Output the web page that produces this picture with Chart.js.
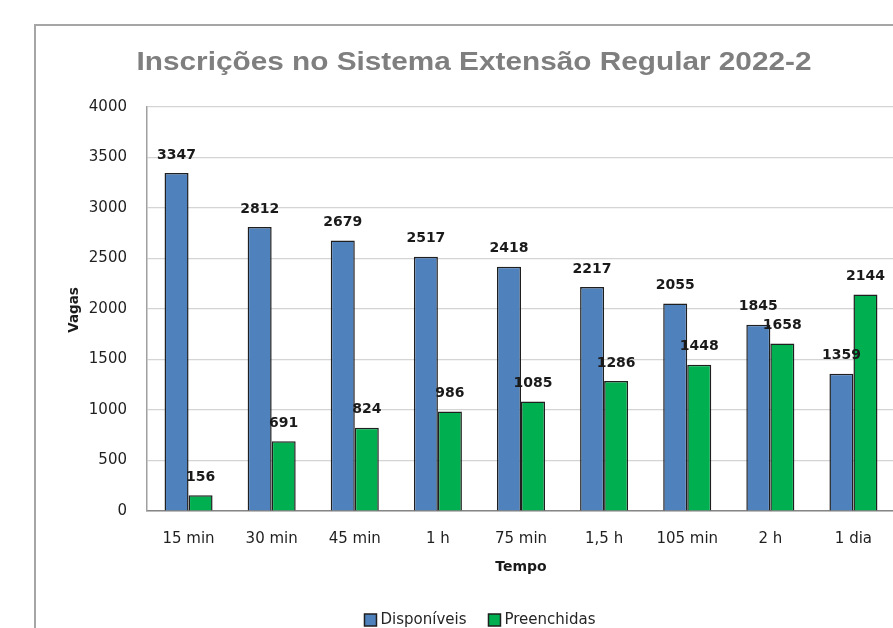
<!DOCTYPE html>
<html><head><meta charset="utf-8">
<script src="https://cdn.jsdelivr.net/npm/chart.js@4.4.1/dist/chart.umd.min.js"></script>
<style>
html,body{margin:0;padding:0;overflow:hidden;background:#fff;width:893px;height:628px}
#wrap{position:absolute;left:0;top:0;width:920px;height:628px}
</style>
</head><body><div id="wrap"><canvas id="c" width="920" height="628"></canvas></div>
<script>
const categories = ['15 min','30 min','45 min','1 h','75 min','1,5 h','105 min','2 h','1 dia'];
const disponiveis = [3347, 2812, 2679, 2517, 2418, 2217, 2055, 1845, 1359];
const preenchidas = [156, 691, 824, 986, 1085, 1286, 1448, 1658, 2144];
const yMin = 0, yMax = 4000, yStep = 500;
const chartTitle = 'Inscrições no Sistema Extensão Regular 2022-2';
const xTitle = 'Tempo';
const yTitle = 'Vagas';
const seriesNames = ['Disponíveis', 'Preenchidas'];
const seriesColors = ['#4f81bd', '#00b050'];

const deco = {
  id: 'deco',
  beforeDraw(chart) {
    const ctx = chart.ctx;
    ctx.save();
    ctx.fillStyle = '#fff';
    ctx.fillRect(0, 0, chart.width, chart.height);
    ctx.strokeStyle = '#a6a6a6';
    ctx.lineWidth = 2;
    ctx.strokeRect(35, 25, 2000, 2000);
    ctx.restore();
  },
  afterDatasetsDraw(chart) {
    const ctx = chart.ctx;
    ctx.save();
    ctx.font = 'bold 14px "DejaVu Sans"';
    ctx.fillStyle = '#1a1a1a';
    ctx.textAlign = 'center';
    ctx.textBaseline = 'middle';
    chart.data.datasets.forEach((ds, i) => {
      const meta = chart.getDatasetMeta(i);
      meta.data.forEach((el, j) => {
        ctx.fillText(String(ds.data[j]), el.x, el.y - 18);
      });
    });
    ctx.restore();
  },
  afterDraw(chart) {
    const ctx = chart.ctx;
    const area = chart.chartArea;
    ctx.save();
    // title
    ctx.font = 'bold 26.5px "Liberation Sans"';
    ctx.fillStyle = '#7f7f7f';
    ctx.textBaseline = 'alphabetic';
    ctx.textAlign = 'left';
    const w = ctx.measureText(chartTitle).width;
    const targetW = 675;
    ctx.save();
    ctx.translate(474 - targetW / 2, 69.5);
    ctx.scale(targetW / w, 1);
    ctx.fillText(chartTitle, 0, 0);
    ctx.restore();
    // axis titles
    ctx.fillStyle = '#1a1a1a';
    ctx.textAlign = 'center';
    ctx.textBaseline = 'middle';
    ctx.font = 'bold 14px "DejaVu Sans"';
    ctx.fillText(xTitle, (area.left + area.right) / 2, 567);
    ctx.save();
    ctx.translate(74, 310);
    ctx.rotate(-Math.PI / 2);
    ctx.font = 'bold 13.5px "DejaVu Sans"';
    ctx.fillText(yTitle, 0, 0);
    ctx.restore();
    // legend
    ctx.font = '15px "DejaVu Sans"';
    const box = 12, gap = 4, itemGap = 22;
    const widths = seriesNames.map(n => ctx.measureText(n).width);
    const total = widths.reduce((a, b) => a + b, 0) + seriesNames.length * (box + gap) + itemGap * (seriesNames.length - 1);
    let x = 480 - total / 2;
    const cy = 620;
    ctx.textAlign = 'left';
    seriesNames.forEach((n, i) => {
      ctx.fillStyle = seriesColors[i];
      ctx.fillRect(x, cy - box / 2, box, box);
      ctx.strokeStyle = '#1f1f1f';
      ctx.lineWidth = 1.5;
      ctx.strokeRect(x, cy - box / 2, box, box);
      ctx.fillStyle = '#262626';
      ctx.fillText(n, x + box + gap, cy);
      x += box + gap + widths[i] + itemGap;
    });
    ctx.restore();
  }
};

new Chart(document.getElementById('c'), {
  type: 'bar',
  data: {
    labels: categories,
    datasets: [
      { label: seriesNames[0], data: disponiveis, backgroundColor: seriesColors[0], borderColor: '#1f1f1f', borderWidth: 1.5 },
      { label: seriesNames[1], data: preenchidas, backgroundColor: seriesColors[1], borderColor: '#1f1f1f', borderWidth: 1.5 }
    ]
  },
  options: {
    responsive: false,
    animation: false,
    devicePixelRatio: 1,
    layout: { padding: { left: 0, top: 107, right: 25, bottom: 0 } },
    datasets: { bar: { categoryPercentage: 0.578, barPercentage: 1 } },
    plugins: { legend: { display: false }, title: { display: false }, tooltip: { enabled: false } },
    scales: {
      x: {
        grid: { display: false, drawTicks: false },
        border: { display: true, color: '#868686', width: 1.5 },
        ticks: { font: { family: 'DejaVu Sans', size: 15 }, color: '#1f1f1f', padding: 19, maxRotation: 0, autoSkip: false },
        afterFit(scale) { scale.height = 117; }
      },
      y: {
        min: yMin, max: yMax,
        grid: { color: '#d4d4d4', lineWidth: 1.2, drawTicks: false },
        border: { display: true, color: '#a0a0a0', width: 1.5 },
        ticks: { stepSize: yStep, font: { family: 'DejaVu Sans', size: 15 }, color: '#1f1f1f', padding: 20,
                 callback: (v) => String(v) },
        afterFit(scale) { scale.width = 147; }
      }
    }
  },
  plugins: [deco]
});
</script>
</body></html>
